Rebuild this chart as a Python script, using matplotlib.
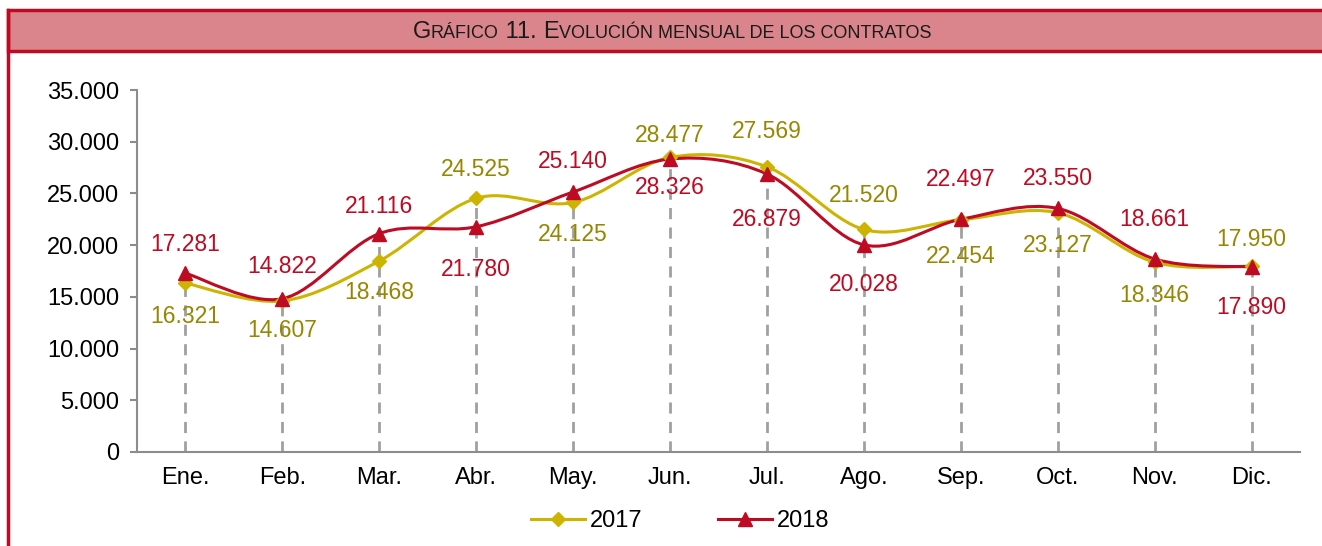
import numpy as np
import matplotlib.pyplot as plt
from matplotlib.path import Path
from matplotlib.patches import PathPatch, Rectangle
from matplotlib.lines import Line2D

months = ['Ene.', 'Feb.', 'Mar.', 'Abr.', 'May.', 'Jun.', 'Jul.', 'Ago.', 'Sep.', 'Oct.', 'Nov.', 'Dic.']
c2017 = [16321, 14607, 18468, 24525, 24125, 28477, 27569, 21520, 22454, 23127, 18346, 17950]
c2018 = [17281, 14822, 21116, 21780, 25140, 28326, 26879, 20028, 22497, 23550, 18661, 17890]
yticks = [0, 5000, 10000, 15000, 20000, 25000, 30000, 35000]

# label offsets in pixels (positive = above the point)
off2017 = [-33, -30, -32, 29, -32, 22, 35, 34, -37, -33, -33, 27]
off2018 = [29, 32, 27, -43, 30, -28, -46, -40, 40, 30, 39, -41]

col17 = '#CDB400'
lab17 = '#978700'
col18 = '#BE0A22'
band = '#D9858B'
grey = '#8C8C8C'

plt.rcParams['font.family'] = ['Liberation Sans', 'DejaVu Sans']


def fmt(v):
    return f'{v:,}'.replace(',', '.')


def smooth_path(x, y):
    # Catmull-Rom style bezier like Excel's smoothed lines
    pts = np.column_stack([x, y]).astype(float)
    n = len(pts)
    verts = [pts[0]]
    codes = [Path.MOVETO]
    for i in range(n - 1):
        p0 = pts[i - 1] if i > 0 else pts[i]
        p1 = pts[i]
        p2 = pts[i + 1]
        p3 = pts[i + 2] if i + 2 < n else pts[i + 1]
        verts += [p1 + (p2 - p0) / 6, p2 - (p3 - p1) / 6, p2]
        codes += [Path.CURVE4] * 3
    return Path(verts, codes)


fig = plt.figure(figsize=(13.22, 5.46), dpi=100)

# title band and frame
fig.add_artist(Rectangle((8 / 1322, 495 / 546), 1.0, 41 / 546, transform=fig.transFigure,
                         facecolor=band, edgecolor=col18, linewidth=2.5))
fig.add_artist(Line2D([8 / 1322, 8 / 1322], [0, 536 / 546], transform=fig.transFigure,
                      color=col18, linewidth=2.5))

ax = fig.add_axes([137 / 1322, 94 / 546, 1163 / 1322, 362 / 546])
x = np.arange(len(months))

top = np.maximum(c2017, c2018)
ax.vlines(x, 0, top, colors='#A0A0A0', linestyles=(0, (4, 3)), linewidth=2, zorder=1)

ax.add_patch(PathPatch(smooth_path(x, c2017), facecolor='none', edgecolor=col17, linewidth=2.2, zorder=2))
ax.add_patch(PathPatch(smooth_path(x, c2018), facecolor='none', edgecolor=col18, linewidth=2.2, zorder=3))
ax.plot(x, c2017, linestyle='none', marker='D', markersize=7, color=col17, zorder=4)
ax.plot(x, c2018, linestyle='none', marker='^', markersize=10, color=col18, zorder=5)

for xi, v, o in zip(x, c2017, off2017):
    ax.annotate(fmt(v), (xi, v), xytext=(0, o), textcoords='offset pixels',
                ha='center', va='center', fontsize=16.5, color=lab17, zorder=6)
for xi, v, o in zip(x, c2018, off2018):
    ax.annotate(fmt(v), (xi, v), xytext=(0, o), textcoords='offset pixels',
                ha='center', va='center', fontsize=16.5, color=col18, zorder=6)

ax.set_xlim(-0.5, len(months) - 0.5)
ax.set_ylim(0, 35000)
ax.set_xticks(x)
ax.set_xticklabels(months, fontsize=17)
ax.set_yticks(yticks)
ax.set_yticklabels([fmt(t) for t in yticks], fontsize=17)
ax.tick_params(axis='x', length=0, pad=11)
ax.tick_params(axis='y', length=5, width=1.5, color=grey, pad=8)
for s in ['top', 'right']:
    ax.spines[s].set_visible(False)
for s in ['left', 'bottom']:
    ax.spines[s].set_color(grey)
    ax.spines[s].set_linewidth(1.5)

handles = [Line2D([], [], color=col17, marker='D', markersize=7, linewidth=2.2),
           Line2D([], [], color=col18, marker='^', markersize=10, linewidth=2.2)]
fig.legend(handles, ['2017', '2018'], loc='center', bbox_to_anchor=(680 / 1322, 25 / 546),
           ncol=2, frameon=False, fontsize=17, handlelength=2.3, handletextpad=0.2,
           columnspacing=3.2)

# small-caps title built from pieces
pieces = [('G', 17), ('RÁFICO', 13), (' 11. ', 17), ('E', 17),
          ('VOLUCIÓN MENSUAL DE LOS CONTRATOS', 13)]
renderer = fig.canvas.get_renderer()
texts = []
total = 0
for s, fs in pieces:
    t = fig.text(0, 508 / 546, s, fontsize=fs, va='baseline', color='#1a1a1a')
    w = t.get_window_extent(renderer).width
    texts.append((t, w))
    total += w
xpos = 672 - total / 2
for t, w in texts:
    t.set_x(xpos / 1322)
    xpos += w

fig.savefig('out.png', dpi=100)
